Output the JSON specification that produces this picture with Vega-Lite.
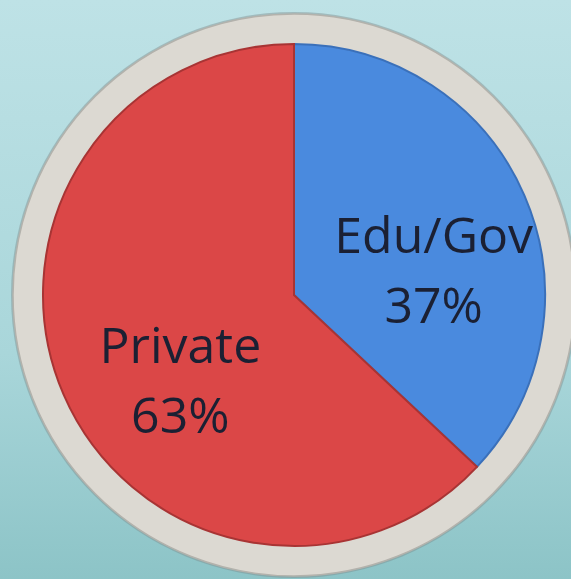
{
  "$schema": "https://vega.github.io/schema/vega-lite/v6.json",
  "width": 588,
  "height": 590,
  "padding": 0,
  "autosize": {"type": "none"},
  "background": "#a8d6da",
  "config": {"view": {"stroke": null}},
  "datasets": {
    "ring": [{"part": "ring", "v": 1}],
    "share": [
      {"label": "Edu/Gov", "value": 37, "text": "Edu/Gov\n37%"},
      {"label": "Private", "value": 63, "text": "Private\n63%"}
    ]
  },
  "resolve": {"scale": {"theta": "independent"}},
  "layer": [
    {
      "data": {"name": "ring"},
      "mark": {"type": "rect",
        "fill": {"gradient": "linear", "x1": 0, "y1": 0, "x2": 0, "y2": 1,
          "stops": [{"offset": 0, "color": "#bee2e6"}, {"offset": 0.6, "color": "#a9d6da"}, {"offset": 1, "color": "#8bc3c6"}]}},
      "encoding": {}
    },
    {
      "data": {"name": "ring"},
      "mark": {"type": "arc", "radius": 283, "fill": "#7f8c8c", "opacity": 0.45},
      "encoding": {"theta": {"field": "v", "type": "quantitative", "stack": true}}
    },
    {
      "data": {"name": "ring"},
      "mark": {"type": "arc", "radius": 281, "fill": "#dcd9d2", "stroke": "#b3b2ac", "strokeWidth": 1.5},
      "encoding": {"theta": {"field": "v", "type": "quantitative", "stack": true}}
    },
    {
      "data": {"name": "share"},
      "mark": {"type": "arc", "radius": 251, "strokeWidth": 2},
      "encoding": {
        "theta": {"field": "value", "type": "quantitative", "stack": true},
        "order": {"field": "label", "type": "nominal"},
        "color": {"field": "label", "type": "nominal",
          "scale": {"domain": ["Edu/Gov", "Private"], "range": ["#4a8ade", "#db4747"]}, "legend": null},
        "stroke": {"field": "label", "type": "nominal",
          "scale": {"domain": ["Edu/Gov", "Private"], "range": ["#3a70ba", "#a83434"]}, "legend": null}
      }
    },
    {
      "data": {"name": "share"},
      "mark": {"type": "text", "radius": 138, "dx": 13, "dy": -2, "font": "Open Sans", "fontSize": 50,
        "lineBreak": "\n", "lineHeight": 70, "fill": "#1b2033", "align": "center", "baseline": "middle"},
      "encoding": {
        "theta": {"field": "value", "type": "quantitative", "stack": true},
        "order": {"field": "label", "type": "nominal"},
        "text": {"field": "text", "type": "nominal"}
      }
    }
  ]
}
